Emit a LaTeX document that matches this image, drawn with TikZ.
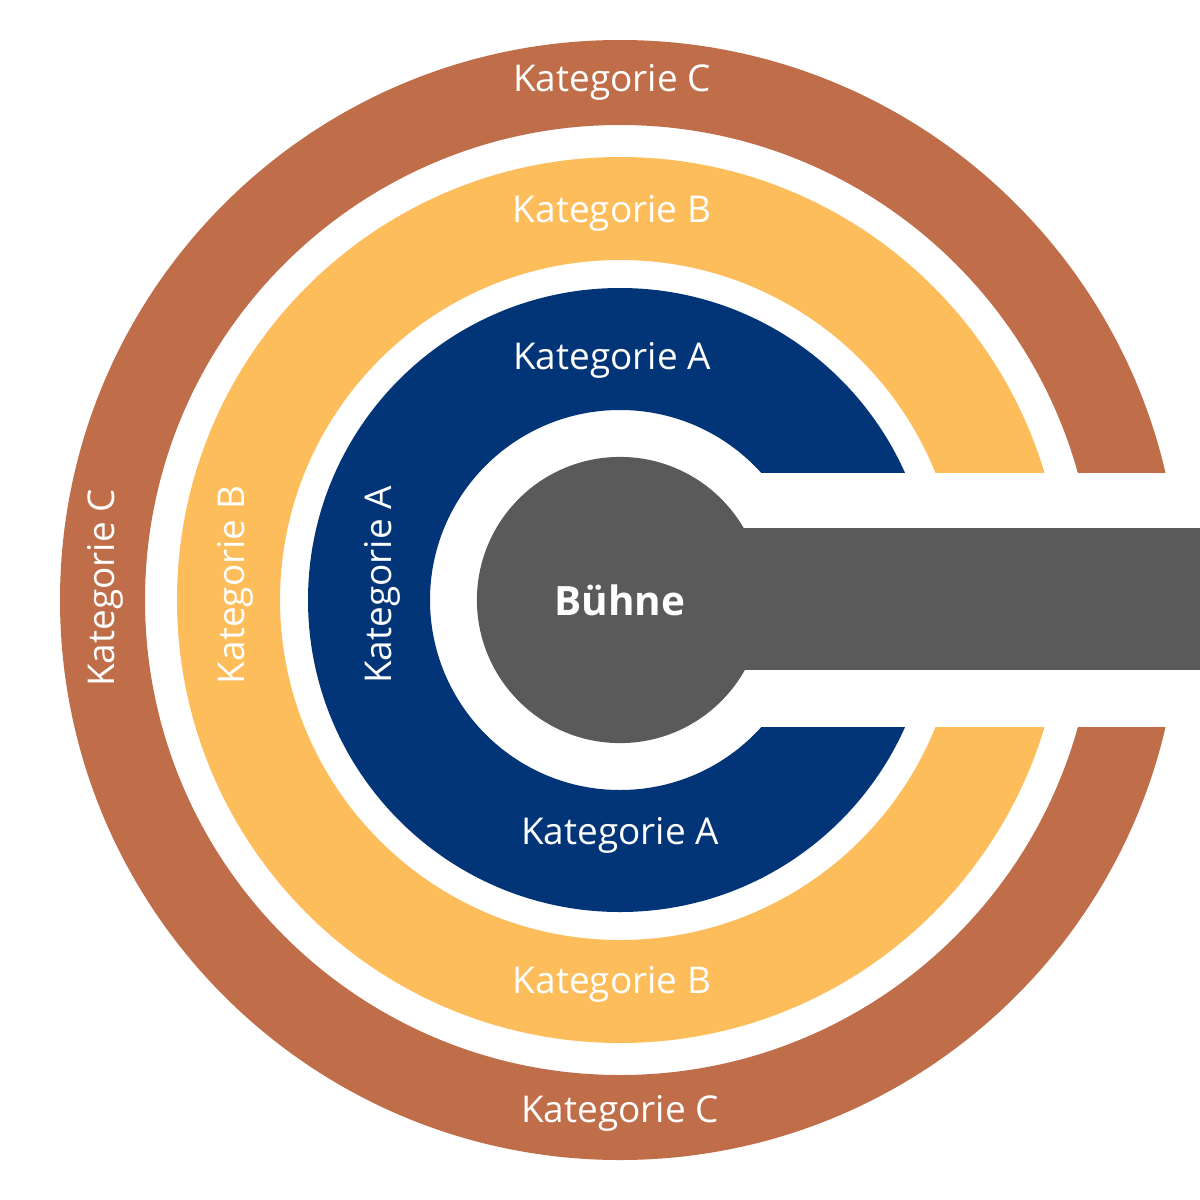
\documentclass[tikz,border=0pt]{standalone}
\usepackage{fontspec}
\setmainfont{Open Sans}
\definecolor{cC}{HTML}{C06E4A}
\definecolor{cB}{HTML}{FDBD5B}
\definecolor{cA}{HTML}{023578}
\definecolor{cS}{HTML}{5A5A5A}
\begin{document}
\begin{tikzpicture}[x=0.01cm,y=-0.01cm,
  lbl/.style={text=white,font=\fontsize{10.5}{12}\selectfont,inner sep=0pt}]
\useasboundingbox (0,0) rectangle (1200,1200);
\fill[white] (0,0) rectangle (1200,1200);
\fill[cC,even odd rule] (620,600) circle (560) (620,600) circle (475);
\fill[cB,even odd rule] (620,600) circle (443) (620,600) circle (340);
\fill[cA,even odd rule] (620,600) circle (312) (620,600) circle (190);
\fill[white] (620,473) rectangle (1200,727);
\node[circle,fill=cS,minimum size=2.86cm,inner sep=0pt] (stage) at (620,600) {};
\fill[cS] (700,528) rectangle (1200,670);
\node[lbl,font=\fontsize{11.5}{13}\selectfont\bfseries] (buehne) at (620,600) {Bühne};
\node[lbl] (ct) at (612,82) {Kategorie C};
\node[lbl] (cb) at (620,1113) {Kategorie C};
\node[lbl,rotate=90] (cl) at (105,588) {Kategorie C};
\node[lbl] (bt) at (612,213) {Kategorie B};
\node[lbl] (bb) at (612,984) {Kategorie B};
\node[lbl,rotate=90] (bl) at (235,585) {Kategorie B};
\node[lbl] (at) at (612,360) {Kategorie A};
\node[lbl] (ab) at (620,835) {Kategorie A};
\node[lbl,rotate=90] (al) at (382,585) {Kategorie A};
\end{tikzpicture}
\end{document}
